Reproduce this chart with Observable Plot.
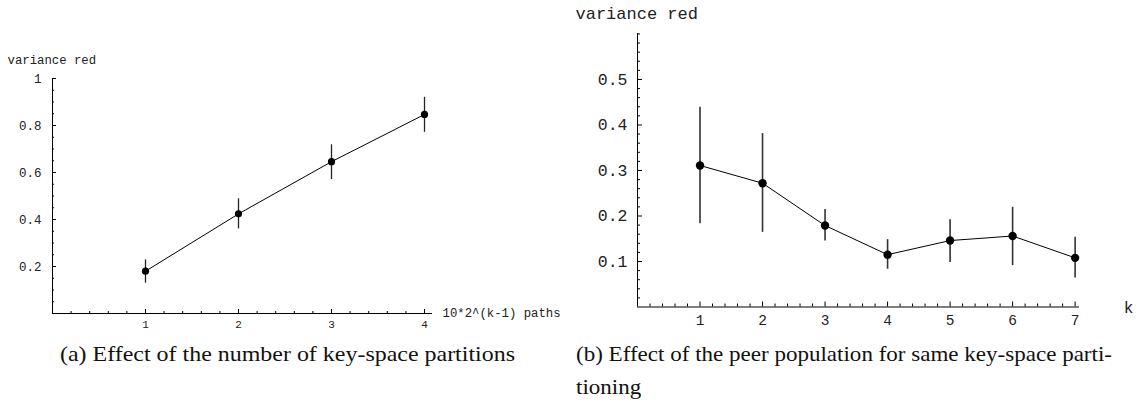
<!DOCTYPE html>
<html>
<head>
<meta charset="utf-8">
<script src="https://cdn.jsdelivr.net/npm/d3@7"></script>
<script src="https://cdn.jsdelivr.net/npm/@observablehq/plot@0.6"></script>
<style>
  html, body { margin: 0; padding: 0; background: #fff; }
  #page { position: relative; width: 1140px; height: 407px; overflow: hidden; }
  .panel { position: absolute; top: 0; }
  .cap { position: absolute; font-family: "Liberation Serif", "Times New Roman", serif; font-size: 22px; color: #111; white-space: nowrap; transform-origin: 0 50%; line-height: 1; }
</style>
</head>
<body>
<div id="page"></div>
<script>
// ---- Data: panel (a) ----
const aX = [1, 2, 3, 4];
const aY = [0.180, 0.424, 0.646, 0.847];
const aLo = [0.129, 0.360, 0.570, 0.771];
const aHi = [0.228, 0.488, 0.718, 0.920];
const aXTicks = [1, 2, 3, 4];
const aYTicks = [0.2, 0.4, 0.6, 0.8, 1];
const aYTickLabels = ["0.2", "0.4", "0.6", "0.8", "1"];
const aYLabel = "variance red";
const aXLabel = "10*2^(k-1) paths";

// ---- Data: panel (b) ----
const bX = [1, 2, 3, 4, 5, 6, 7];
const bY = [0.311, 0.272, 0.179, 0.115, 0.146, 0.156, 0.108];
const bLo = [0.183, 0.164, 0.145, 0.083, 0.098, 0.091, 0.064];
const bHi = [0.439, 0.381, 0.214, 0.148, 0.192, 0.219, 0.153];
const bXTicks = [1, 2, 3, 4, 5, 6, 7];
const bYTicks = [0.1, 0.2, 0.3, 0.4, 0.5];
const bYTickLabels = ["0.1", "0.2", "0.3", "0.4", "0.5"];
const bYLabel = "variance red";
const bXLabel = "k";

const capA = "(a)  Effect of the number of key-space partitions";
const capB1 = "(b)  Effect of the peer population for same key-space parti-";
const capB2 = "tioning";

const mono = "Liberation Mono, Courier New, monospace";

function panel(cfg) {
  const {x, y, lo, hi, xTicks, yTicks, yTickLabels, yLabel, xLabel,
         xDomain, yDomain, width, height, margin, xMinorStep, yMinorStep,
         yFont, xFont, yLabelFont, xLabelFont, yPad, xPad, major, minor,
         yLabelDx, yLabelDy, xLabelDx, xLabelDy, xLabelAnchor, r, errStroke, errWidth} = cfg;
  const rows = x.map((v, i) => ({x: v, y: y[i], lo: lo[i], hi: hi[i]}));
  const fw = width - margin.left - margin.right;
  const fh = height - margin.top - margin.bottom;
  const eps = 1e-9;
  const xMinor = d3.range(xMinorStep, xDomain[1] + eps, xMinorStep).filter(v => !xTicks.some(t => Math.abs(t - v) < 1e-6));
  const yMinor = d3.range(yMinorStep, yDomain[1] + eps, yMinorStep).filter(v => !yTicks.some(t => Math.abs(t - v) < 1e-6));
  return Plot.plot({
    width, height,
    marginLeft: margin.left, marginRight: margin.right, marginTop: margin.top, marginBottom: margin.bottom,
    style: {fontFamily: mono, background: "white", overflow: "visible"},
    x: {domain: xDomain, axis: null},
    y: {domain: yDomain, axis: null},
    marks: [
      // axis lines
      Plot.ruleX([xDomain[0]], {stroke: "#000", strokeWidth: 1}),
      Plot.ruleY([yDomain[0]], {stroke: "#000", strokeWidth: 1}),
      // inward ticks on y
      Plot.tickY(yTicks, {y: d => d, stroke: "#000", insetRight: fw - major}),
      Plot.tickY(yMinor, {y: d => d, stroke: "#000", insetRight: fw - minor}),
      // inward ticks on x
      Plot.tickX(xTicks, {x: d => d, stroke: "#000", insetTop: fh - major}),
      Plot.tickX(xMinor, {x: d => d, stroke: "#000", insetTop: fh - minor}),
      // tick labels
      Plot.axisY(yTicks, {tickSize: 0, tickPadding: yPad, fontSize: yFont, fontFamily: mono, label: null,
        tickFormat: d => yTickLabels[yTicks.indexOf(d)], fill: "#222"}),
      Plot.axisX(xTicks, {tickSize: 0, tickPadding: xPad, fontSize: xFont, fontFamily: mono, label: null,
        tickFormat: d => String(d), fill: "#222"}),
      // axis titles
      Plot.text([yLabel], {frameAnchor: "top-left", text: d => d, textAnchor: "start", lineAnchor: "middle",
        dx: yLabelDx, dy: yLabelDy, fontSize: yLabelFont, fontFamily: mono, fill: "#222"}),
      Plot.text([xLabel], {frameAnchor: "bottom-right", text: d => d, textAnchor: xLabelAnchor, lineAnchor: "middle",
        dx: xLabelDx, dy: xLabelDy, fontSize: xLabelFont, fontFamily: mono, fill: "#222"}),
      // error bars
      Plot.ruleX(rows, {x: "x", y1: "lo", y2: "hi", stroke: errStroke, strokeWidth: errWidth}),
      // line + points
      Plot.line(rows, {x: "x", y: "y", stroke: "#000", strokeWidth: 1}),
      Plot.dot(rows, {x: "x", y: "y", r, fill: "#000", stroke: "none"})
    ]
  });
}

const page = document.getElementById("page");

const left = panel({
  x: aX, y: aY, lo: aLo, hi: aHi, xTicks: aXTicks, yTicks: aYTicks, yTickLabels: aYTickLabels,
  yLabel: aYLabel, xLabel: aXLabel,
  xDomain: [0, 4.086], yDomain: [0, 1],
  width: 570, height: 335, margin: {left: 52, right: 138, top: 78, bottom: 22},
  xMinorStep: 0.2, yMinorStep: 0.05,
  yFont: 12.5, xFont: 11, yLabelFont: 12.3, xLabelFont: 12.3, yPad: 11, xPad: 7, major: 4, minor: 2,
  yLabelDx: -45, yLabelDy: -18, xLabelDx: 10, xLabelDy: 0, xLabelAnchor: "start", r: 3.6, errStroke: "#222", errWidth: 1.3
});
left.classList.add("panel");
left.style.left = "0px";
page.appendChild(left);

const right = panel({
  x: bX, y: bY, lo: bLo, hi: bHi, xTicks: bXTicks, yTicks: bYTicks, yTickLabels: bYTickLabels,
  yLabel: bYLabel, xLabel: bXLabel,
  xDomain: [0, 7.07], yDomain: [0, 0.601],
  width: 570, height: 335, margin: {left: 67, right: 61, top: 33, bottom: 28.5},
  xMinorStep: 0.2, yMinorStep: 0.02,
  yFont: 16.5, xFont: 14.5, yLabelFont: 17, xLabelFont: 16, yPad: 10, xPad: 8, major: 5, minor: 3,
  yLabelDx: -62, yLabelDy: -20, xLabelDx: 49, xLabelDy: 1, xLabelAnchor: "middle", r: 4.2, errStroke: "#333", errWidth: 1.6
});
right.classList.add("panel");
right.style.left = "570px";
page.appendChild(right);

// captions (positioned by baseline)
function caption(text, left, baseline, targetWidth, scaleOverride) {
  const el = document.createElement("div");
  el.className = "cap";
  el.textContent = text;
  el.style.left = left + "px";
  el.style.top = (baseline - 18.5) + "px";
  page.appendChild(el);
  const w = el.getBoundingClientRect().width;
  const s = scaleOverride != null ? scaleOverride : targetWidth / w;
  el.style.transform = `scaleX(${s})`;
  return s;
}
caption(capA, 60, 361, 455);
const sB = caption(capB1, 576, 361, 536);
caption(capB2, 576, 394, null, sB);
</script>
</body>
</html>
